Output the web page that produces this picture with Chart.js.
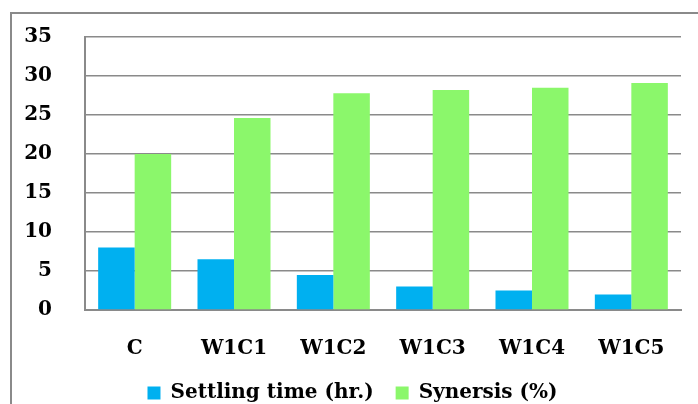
<!DOCTYPE html>
<html>
<head>
<meta charset="utf-8">
<script src="https://cdn.jsdelivr.net/npm/chart.js@4/dist/chart.umd.min.js"></script>
<style>
  html, body { margin: 0; padding: 0; background: #fff; overflow: hidden; }
  #wrap { position: relative; width: 698px; height: 404px; overflow: hidden; }
  #frame { position: absolute; left: 10px; top: 12px; width: 720px; height: 420px;
           border-left: 2px solid #8a8a8a; border-top: 2px solid #8a8a8a; }
  #box { position: absolute; left: 0; top: -8px; width: 698px; height: 429px; }
</style>
</head>
<body>
<div id="wrap">
  <div id="frame"></div>
  <div id="box"><canvas id="chart" width="698" height="429"></canvas></div>
</div>
<script>
const categories = ['C', 'W1C1', 'W1C2', 'W1C3', 'W1C4', 'W1C5'];
const settlingTime = [8, 6.5, 4.5, 3, 2.5, 2];
const synersis = [20, 24.6, 27.8, 28.2, 28.5, 29.1];
const yTicks = [0, 5, 10, 15, 20, 25, 30, 35];

const font = { family: '"DejaVu Serif", serif', weight: 'bold', size: 20 };

// nudge the legend a little to the right, it sits under the plot area
const legendShift = {
    id: 'legendShift',
    afterLayout(chart) {
        chart.legend.left += 12;
        chart.legend.right += 12;
    }
};

new Chart(document.getElementById('chart'), {
    type: 'bar',
    data: {
        labels: categories,
        datasets: [
            { label: 'Settling time (hr.)', data: settlingTime, backgroundColor: '#00b0f0' },
            { label: 'Synersis (%)', data: synersis, backgroundColor: '#8bf76b' }
        ]
    },
    options: {
        responsive: false,
        animation: false,
        layout: { padding: { top: 30, right: 17, left: 0, bottom: 8 } },
        datasets: { bar: { categoryPercentage: 0.735, barPercentage: 1 } },
        plugins: {
            tooltip: { enabled: false },
            legend: {
                position: 'bottom',
                labels: { font: font, color: '#000', boxWidth: 13, boxHeight: 13, padding: 22 }
            }
        },
        scales: {
            x: {
                grid: { display: false, drawTicks: false },
                border: { color: '#8a8a8a', width: 2 },
                ticks: { font: font, color: '#000', padding: 27, maxRotation: 0 },
                afterFit: s => { s.height = 51; }
            },
            y: {
                min: 0, max: 35,
                afterBuildTicks: s => { s.ticks = yTicks.map(v => ({ value: v })); },
                grid: { color: '#8a8a8a', lineWidth: 1.5, drawTicks: false },
                border: { color: '#8a8a8a', width: 2 },
                ticks: { font: font, color: '#000', padding: 33 },
                afterFit: s => { s.width = 85; }
            }
        }
    },
    plugins: [legendShift]
});
</script>
</body>
</html>
